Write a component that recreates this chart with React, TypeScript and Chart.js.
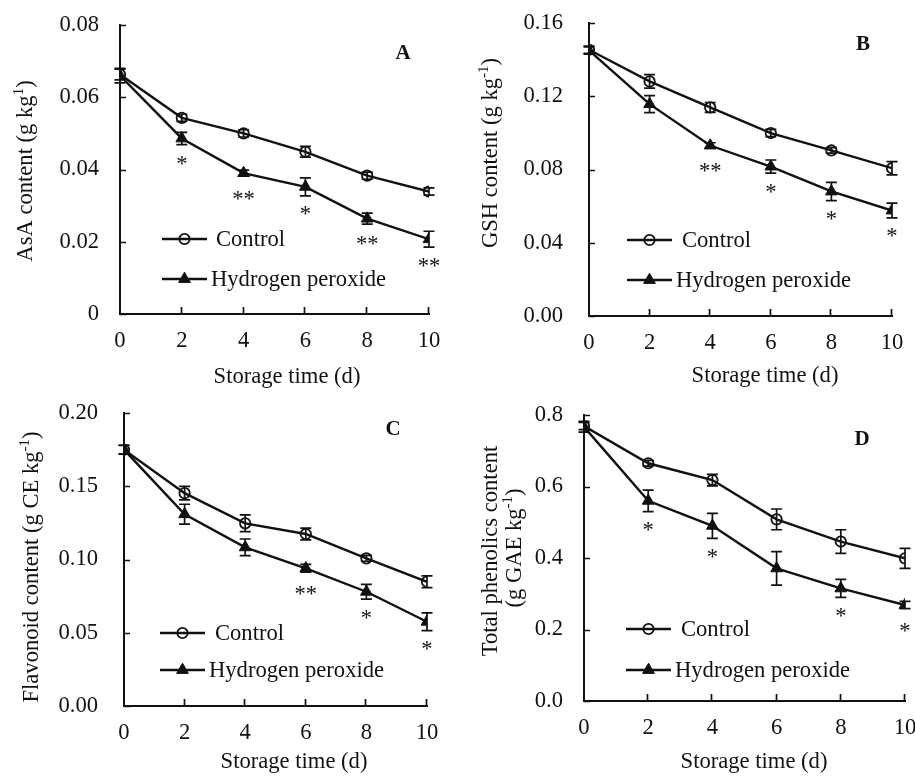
import React, { useEffect, useRef } from 'react';
import { Chart, registerables } from 'chart.js';

Chart.register(...registerables);

// ---------- data ----------
const days = [0, 2, 4, 6, 8, 10];
const seriesNames = ['Control', 'Hydrogen peroxide'];

const asaControl = [0.0663, 0.0543, 0.05, 0.0449, 0.0383, 0.0339];
const asaControlErr = [0.0015, 0.001, 0.001, 0.0015, 0.001, 0.001];
const asaH2O2 = [0.066, 0.0486, 0.039, 0.0352, 0.0264, 0.0207];
const asaH2O2Err = [0.002, 0.0017, 0.0008, 0.0025, 0.0015, 0.0022];
const asaSig = ['', '*', '**', '*', '**', '**'];
const asaTicks = ['0', '0.02', '0.04', '0.06', '0.08'];

const gshControl = [0.1454, 0.1281, 0.1139, 0.0999, 0.0904, 0.0807];
const gshControlErr = [0.002, 0.0037, 0.0027, 0.002, 0.0015, 0.0036];
const gshH2O2 = [0.145, 0.1157, 0.0931, 0.0816, 0.068, 0.0576];
const gshH2O2Err = [0.002, 0.0046, 0.0015, 0.0036, 0.005, 0.004];
const gshSig = ['', '', '**', '*', '*', '*'];
const gshTicks = ['0.00', '0.04', '0.08', '0.12', '0.16'];

const flaControl = [0.1749, 0.1453, 0.1247, 0.1174, 0.1008, 0.0848];
const flaControlErr = [0.003, 0.0046, 0.0057, 0.004, 0.002, 0.004];
const flaH2O2 = [0.175, 0.1309, 0.1083, 0.094, 0.078, 0.0575];
const flaH2O2Err = [0.003, 0.0068, 0.0057, 0.0027, 0.005, 0.006];
const flaSig = ['', '', '', '**', '*', '*'];
const flaTicks = ['0.00', '0.05', '0.10', '0.15', '0.20'];

const phenControl = [0.769, 0.665, 0.618, 0.508, 0.446, 0.399];
const phenControlErr = [0.01, 0.008, 0.016, 0.029, 0.033, 0.028];
const phenH2O2 = [0.767, 0.56, 0.49, 0.371, 0.315, 0.2685];
const phenH2O2Err = [0.015, 0.03, 0.035, 0.047, 0.025, 0.01];
const phenSig = ['', '*', '*', '', '*', '*'];
const phenTicks = ['0.0', '0.2', '0.4', '0.6', '0.8'];

const xTitle = 'Storage time (d)';

// ---------- style ----------
const INK = '#111111';
const FONT = '"Liberation Serif", "Times New Roman", serif';
const FS = 22.6;
const Y_W = 100;
const X_H = 60;

type Part = { t: string; sup?: boolean };
interface Panel {
  letter: string;
  control: number[];
  controlErr: number[];
  h2o2: number[];
  h2o2Err: number[];
  sig: string[];
  yTicks: string[];
  yMax: number;
  yStep: number;
  yTitle: Part[][];
  box: { left: number; top: number; width: number; height: number };
  area: { left: number; top: number; right: number; bottom: number };
  tickPad: number;
  yTitlePos: [number, number][];
  xTitlePos: [number, number];
  letterPos: [number, number];
  legend: { x0: number; x1: number; rows: [number, number]; textX: [number, number] };
}

const panels: Panel[] = [
  {
    letter: 'A', control: asaControl, controlErr: asaControlErr, h2o2: asaH2O2, h2o2Err: asaH2O2Err,
    sig: asaSig, yTicks: asaTicks, yMax: 0.08, yStep: 0.02,
    yTitle: [[{ t: 'AsA content (g kg' }, { t: '1', sup: true }, { t: ')' }]],
    box: { left: 0, top: 0, width: 457, height: 392 },
    area: { left: 120, top: 25, right: 429, bottom: 314 },
    tickPad: 21, yTitlePos: [[26, 171]], xTitlePos: [287, 377], letterPos: [403, 52],
    legend: { x0: 162, x1: 207, rows: [239, 279], textX: [216, 211] },
  },
  {
    letter: 'B', control: gshControl, controlErr: gshControlErr, h2o2: gshH2O2, h2o2Err: gshH2O2Err,
    sig: gshSig, yTicks: gshTicks, yMax: 0.16, yStep: 0.04,
    yTitle: [[{ t: 'GSH content (g kg' }, { t: '-1', sup: true }, { t: ')' }]],
    box: { left: 457, top: 0, width: 458, height: 392 },
    area: { left: 132, top: 23, right: 435, bottom: 316 },
    tickPad: 26, yTitlePos: [[34, 153]], xTitlePos: [308, 376], letterPos: [406, 43],
    legend: { x0: 170, x1: 215, rows: [240, 280], textX: [225, 219] },
  },
  {
    letter: 'C', control: flaControl, controlErr: flaControlErr, h2o2: flaH2O2, h2o2Err: flaH2O2Err,
    sig: flaSig, yTicks: flaTicks, yMax: 0.2, yStep: 0.05,
    yTitle: [[{ t: 'Flavonoid content (g CE kg' }, { t: '-1', sup: true }, { t: ')' }]],
    box: { left: 0, top: 388, width: 457, height: 388 },
    area: { left: 124, top: 25, right: 427, bottom: 318 },
    tickPad: 26, yTitlePos: [[32, 179]], xTitlePos: [294, 374], letterPos: [393, 40],
    legend: { x0: 160, x1: 205, rows: [245, 282], textX: [215, 209] },
  },
  {
    letter: 'D', control: phenControl, controlErr: phenControlErr, h2o2: phenH2O2, h2o2Err: phenH2O2Err,
    sig: phenSig, yTicks: phenTicks, yMax: 0.8, yStep: 0.2,
    yTitle: [
      [{ t: 'Total phenolics content' }],
      [{ t: '(g GAE kg' }, { t: '-1', sup: true }, { t: ')' }],
    ],
    box: { left: 457, top: 388, width: 480, height: 388 },
    area: { left: 127, top: 27, right: 448, bottom: 313 },
    tickPad: 21, yTitlePos: [[34, 163], [58, 160]], xTitlePos: [297, 374], letterPos: [405, 50],
    legend: { x0: 169, x1: 214, rows: [241, 282], textX: [224, 218] },
  },
];

function drawRich(ctx: CanvasRenderingContext2D, parts: Part[], cx: number, cy: number, rotated: boolean) {
  ctx.save();
  ctx.translate(cx, cy);
  if (rotated) ctx.rotate(-Math.PI / 2);
  const base = `${FS}px ${FONT}`;
  const sup = `${Math.round(FS * 0.65)}px ${FONT}`;
  let total = 0;
  const widths = parts.map((p) => {
    ctx.font = p.sup ? sup : base;
    const w = ctx.measureText(p.t).width;
    total += w;
    return w;
  });
  let x = -total / 2;
  ctx.textAlign = 'left';
  ctx.textBaseline = 'alphabetic';
  ctx.fillStyle = INK;
  const baseY = FS * 0.25;
  parts.forEach((p, i) => {
    ctx.font = p.sup ? sup : base;
    ctx.fillText(p.t, x, p.sup ? baseY - FS * 0.4 : baseY);
    x += widths[i];
  });
  ctx.restore();
}

function drawCircle(ctx: CanvasRenderingContext2D, x: number, y: number) {
  ctx.beginPath();
  ctx.arc(x, y, 5.2, 0, Math.PI * 2);
  ctx.lineWidth = 1.8;
  ctx.strokeStyle = INK;
  ctx.stroke();
}

function drawTriangle(ctx: CanvasRenderingContext2D, x: number, y: number) {
  const r = 6.8;
  ctx.beginPath();
  for (let k = 0; k < 3; k++) {
    const a = (k * 2 * Math.PI) / 3;
    const px = x + Math.sin(a) * r;
    const py = y - Math.cos(a) * r;
    if (k === 0) ctx.moveTo(px, py);
    else ctx.lineTo(px, py);
  }
  ctx.closePath();
  ctx.fillStyle = INK;
  ctx.fill();
  ctx.lineWidth = 1;
  ctx.strokeStyle = INK;
  ctx.stroke();
}

function makeConfig(p: Panel): any {
  const extras = {
    id: 'extras',
    afterDatasetsDraw(chart: any) {
      const ctx = chart.ctx as CanvasRenderingContext2D;
      const xs = chart.scales.x;
      const ys = chart.scales.y;
      ctx.save();
      ctx.strokeStyle = INK;
      ctx.lineWidth = 1.7;
      const sets: [number[], number[]][] = [
        [p.control, p.controlErr],
        [p.h2o2, p.h2o2Err],
      ];
      sets.forEach(([vals, errs]) => {
        vals.forEach((v, i) => {
          const x = xs.getPixelForValue(days[i]);
          const yt = ys.getPixelForValue(v + errs[i]);
          const yb = ys.getPixelForValue(v - errs[i]);
          ctx.beginPath();
          ctx.moveTo(x, yt);
          ctx.lineTo(x, yb);
          ctx.moveTo(x - 5.5, yt);
          ctx.lineTo(x + 5.5, yt);
          ctx.moveTo(x - 5.5, yb);
          ctx.lineTo(x + 5.5, yb);
          ctx.stroke();
        });
      });
      ctx.restore();
    },
    afterDraw(chart: any) {
      const ctx = chart.ctx as CanvasRenderingContext2D;
      const xs = chart.scales.x;
      const ys = chart.scales.y;
      const area = chart.chartArea;
      ctx.save();
      // inner tick marks
      ctx.strokeStyle = INK;
      ctx.lineWidth = 1.7;
      ctx.beginPath();
      ys.ticks.forEach((t: any) => {
        const y = Math.round(ys.getPixelForValue(t.value)) + 0.5;
        ctx.moveTo(area.left, y);
        ctx.lineTo(area.left + 6, y);
      });
      xs.ticks.forEach((t: any) => {
        if (t.value === 0) return;
        const x = Math.round(xs.getPixelForValue(t.value)) - 0.5;
        ctx.moveTo(x, area.bottom);
        ctx.lineTo(x, area.bottom - 7);
      });
      ctx.stroke();

      // significance marks
      ctx.fillStyle = INK;
      ctx.font = `${FS}px ${FONT}`;
      ctx.textAlign = 'center';
      ctx.textBaseline = 'alphabetic';
      p.sig.forEach((s, i) => {
        if (!s) return;
        const x = xs.getPixelForValue(days[i]);
        const yb = ys.getPixelForValue(p.h2o2[i] - p.h2o2Err[i]);
        const yp = ys.getPixelForValue(p.h2o2[i]) + 7;
        const cy = Math.max(yb, yp) + 15;
        ctx.fillText(s, x, cy + FS * 0.47);
      });

      // legend
      const lg = p.legend;
      [0, 1].forEach((k) => {
        const y = lg.rows[k];
        ctx.beginPath();
        ctx.moveTo(lg.x0, y);
        ctx.lineTo(lg.x1, y);
        ctx.lineWidth = 2.4;
        ctx.strokeStyle = INK;
        ctx.stroke();
        const mx = (lg.x0 + lg.x1) / 2;
        if (k === 0) drawCircle(ctx, mx, y);
        else drawTriangle(ctx, mx, y);
        ctx.fillStyle = INK;
        ctx.font = `${FS}px ${FONT}`;
        ctx.textAlign = 'left';
        ctx.textBaseline = 'alphabetic';
        ctx.fillText(seriesNames[k], lg.textX[k], y + FS * 0.33);
      });

      // panel letter
      ctx.font = `bold 21px ${FONT}`;
      ctx.textAlign = 'center';
      ctx.fillText(p.letter, p.letterPos[0], p.letterPos[1] + 21 * 0.33);

      ctx.restore();

      // titles
      p.yTitle.forEach((line, i) => drawRich(ctx, line, p.yTitlePos[i][0], p.yTitlePos[i][1], true));
      drawRich(ctx, [{ t: xTitle }], p.xTitlePos[0], p.xTitlePos[1], false);
    },
  };

  const tickFont = { family: FONT, size: FS };
  return {
    type: 'line',
    data: {
      datasets: [
        {
          label: seriesNames[0],
          data: days.map((d, i) => ({ x: d, y: p.control[i] })),
          borderColor: INK,
          borderWidth: 2.4,
          pointStyle: 'circle',
          pointRadius: 5.2,
          pointBorderWidth: 1.8,
          pointBorderColor: INK,
          pointBackgroundColor: 'rgba(0,0,0,0)',
          tension: 0,
        },
        {
          label: seriesNames[1],
          data: days.map((d, i) => ({ x: d, y: p.h2o2[i] })),
          borderColor: INK,
          borderWidth: 2.4,
          pointStyle: 'triangle',
          pointRadius: 6.8,
          pointBorderWidth: 1,
          pointBorderColor: INK,
          pointBackgroundColor: INK,
          tension: 0,
        },
      ],
    },
    options: {
      responsive: false,
      animation: false,
      events: [],
      devicePixelRatio: 1,
      layout: {
        padding: {
          left: p.area.left - Y_W,
          top: p.area.top,
          right: p.box.width - p.area.right,
          bottom: p.box.height - p.area.bottom - X_H,
        },
      },
      plugins: { legend: { display: false }, tooltip: { enabled: false }, title: { display: false } },
      scales: {
        x: {
          type: 'linear',
          min: 0,
          max: 10,
          ticks: { stepSize: 2, padding: 14, color: INK, font: tickFont, maxRotation: 0, autoSkip: false },
          grid: { display: false, drawTicks: false },
          border: { display: true, color: INK, width: 2 },
          afterFit: (s: any) => {
            s.height = X_H;
            s.paddingLeft = 0;
            s.paddingRight = 0;
          },
        },
        y: {
          type: 'linear',
          min: 0,
          max: p.yMax,
          ticks: {
            stepSize: p.yStep,
            padding: p.tickPad,
            color: INK,
            font: tickFont,
            autoSkip: false,
            callback: (_v: any, i: number) => p.yTicks[i] ?? '',
          },
          grid: { display: false, drawTicks: false },
          border: { display: true, color: INK, width: 2 },
          afterFit: (s: any) => {
            s.width = Y_W;
            s.paddingTop = 0;
            s.paddingBottom = 0;
          },
        },
      },
    },
    plugins: [extras],
  };
}

function PanelChart({ p }: { p: Panel }) {
  const ref = useRef<HTMLCanvasElement | null>(null);
  useEffect(() => {
    if (!ref.current) return;
    const chart = new Chart(ref.current, makeConfig(p));
    return () => chart.destroy();
  }, [p]);
  return (
    <canvas
      ref={ref}
      width={p.box.width}
      height={p.box.height}
      style={{ position: 'absolute', left: p.box.left, top: p.box.top, width: p.box.width, height: p.box.height }}
    />
  );
}

export default function App() {
  return (
    <div
      style={{
        position: 'fixed',
        left: 0,
        top: 0,
        width: 915,
        height: 776,
        background: '#ffffff',
        overflow: 'hidden',
      }}
    >
      {panels.map((p) => (
        <PanelChart key={p.letter} p={p} />
      ))}
    </div>
  );
}
